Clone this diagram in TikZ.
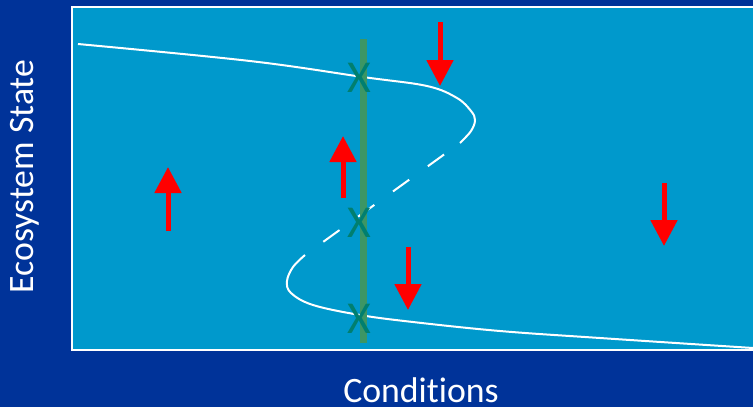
\documentclass[tikz,border=0pt]{standalone}
\usepackage{fontspec}
\setsansfont[Ligatures=NoCommon]{Carlito}
\usetikzlibrary{arrows.meta}
\definecolor{navy}{HTML}{003399}
\definecolor{lagoon}{HTML}{0099CC}
\definecolor{moss}{HTML}{3C9664}
\definecolor{pine}{HTML}{007F6F}
\definecolor{signal}{HTML}{FF0000}

\begin{document}
\begin{tikzpicture}[x=0.03cm, y=-0.03cm]

  % Set default font
  \tikzset{every node/.style={font=\sffamily}}
  \tikzset{
    push/.style={
      signal,
      line width=0.15cm,
      -{Triangle[length=0.78cm, width=0.78cm]}
    },
    crossing/.style={
      text=pine,
      font=\sffamily\fontsize{39}{39}\selectfont,
      inner sep=0pt
    },
    axislabel/.style={
      text=white,
      font=\sffamily\fontsize{30.5}{30.5}\selectfont,
      inner sep=0pt
    }
  }

  % Background
  \useasboundingbox (0,0) rectangle (753,407);
  \fill[navy] (0,0) rectangle (753,407);

  % Panel
  \draw[white, line width=0.06cm, fill=lagoon] (72,7) rectangle (760,350);

  % Upper branch
  \draw[white, line width=0.06cm] plot[smooth, tension=0.6] coordinates {
    (78,44) (250,61) (363,77) (427,86) (457,98) (471,111) (475,120) (471,131) (460,143)
  };

  % Unstable branch
  \draw[white, line width=0.06cm, dash pattern=on 0.6cm off 0.69cm, dash phase=0.7cm]
    (460,143) -- (305,255);

  % Lower branch
  \draw[white, line width=0.06cm] plot[smooth, tension=0.6] coordinates {
    (305,255) (293,267) (287,281) (291,293) (313,305) (360,315) (413,322) (500,331) (600,338) (753,348)
  };

  % Fixed conditions
  \draw[moss, line width=0.21cm] (363.5,39) -- (363.5,343);

  % Equilibria
  \node[crossing] (upper) at (359,78) {X};
  \node[crossing] (middle) at (359,223) {X};
  \node[crossing] (lower) at (359,319) {X};

  % Forces
  \draw[push] (440,22) -- (440,86);
  \draw[push] (343,198) -- (343,136);
  \draw[push] (408,247) -- (408,310);
  \draw[push] (168,231) -- (168,167);
  \draw[push] (664,183) -- (664,246);

  % Axis labels
  \node[axislabel, rotate=90, anchor=base] (ylabel) at (33,176.5) {Ecosystem State};
  \node[axislabel, anchor=base] (xlabel) at (421,402) {Conditions};

\end{tikzpicture}
\end{document}
